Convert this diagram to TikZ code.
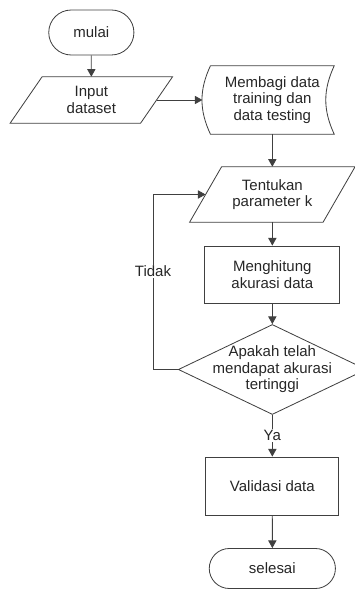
\documentclass[tikz,border=0pt]{standalone}
\usepackage{fontspec}
\setmainfont{Liberation Sans}
\usetikzlibrary{arrows.meta,shapes.geometric,shapes.misc}

\begin{document}
\begin{tikzpicture}[
  line/.style={draw=black!75,line width=0.7pt},
  flow/.style={line,-{Triangle[length=6.5pt,width=7pt]}},
  txt/.style={font=\fontsize{12.8}{14}\selectfont,text=black!85,align=center},
  terminal/.style={txt,line,rounded rectangle,minimum width=2.79cm,minimum height=1.35cm},
  io/.style={txt,inner sep=0pt},
  process/.style={txt,line,rectangle,minimum width=4.02cm,minimum height=1.72cm},
  decision/.style={txt,line,diamond,aspect=2.09,inner sep=-0.5cm,minimum width=5.64cm,minimum height=2.7cm},
  tag/.style={txt,fill=white,inner sep=1pt},
]
\useasboundingbox (0,0) rectangle (10.62,17.7);
% left column
\node[terminal] (mulai) at (2.74,16.725) {mulai};
\node[io,minimum width=3.9cm,minimum height=1.38cm] (input) at (2.74,14.7) {Input\\dataset};
% right column
\node[txt,minimum width=3.7cm,minimum height=2.04cm] (bagi) at (8.17,14.7) {Membagi data\\training dan\\data testing};
\draw[line] (bagi.north west) -- (bagi.north east) to[bend right=25] (bagi.south east)
  -- (bagi.south west) to[bend left=25] (bagi.north west);
\node[io,minimum width=3.99cm,minimum height=1.65cm] (param) at (8.17,11.865) {Tentukan\\parameter k};
\foreach \n in {input,param}
  \draw[line] ([xshift=0.48cm]\n.north west) -- ([xshift=0.48cm]\n.north east)
    -- ([xshift=-0.48cm]\n.south east) -- ([xshift=-0.48cm]\n.south west) -- cycle;
\node[process,minimum width=4.05cm,minimum height=1.71cm] (hitung) at (8.17,9.465) {Menghitung\\akurasi data};
\node[decision] (cek) at (8.17,6.615) {Apakah telah\\mendapat akurasi\\tertinggi};
\node[process,minimum width=3.99cm,minimum height=1.74cm] (valid) at (8.17,3.12) {Validasi data};
\node[terminal,minimum width=4.02cm,minimum height=1.2cm] (selesai) at (8.17,0.645) {selesai};
\coordinate (balik) at (4.59,6.615);

\draw[flow] (mulai) -- (input);
\draw[flow] (input) -- ([xshift=-0.24cm]bagi.west);
\draw[flow] (bagi) -- (param);
\draw[flow] (param) -- (hitung);
\draw[flow] (hitung) -- (cek);
\draw[flow] (cek) -- node[tag] {Ya} (valid);
\draw[flow] (valid) -- (selesai);
\draw[flow] (cek) -- (balik) |- node[tag,pos=0.28] {Tidak} (param);
\end{tikzpicture}
\end{document}
